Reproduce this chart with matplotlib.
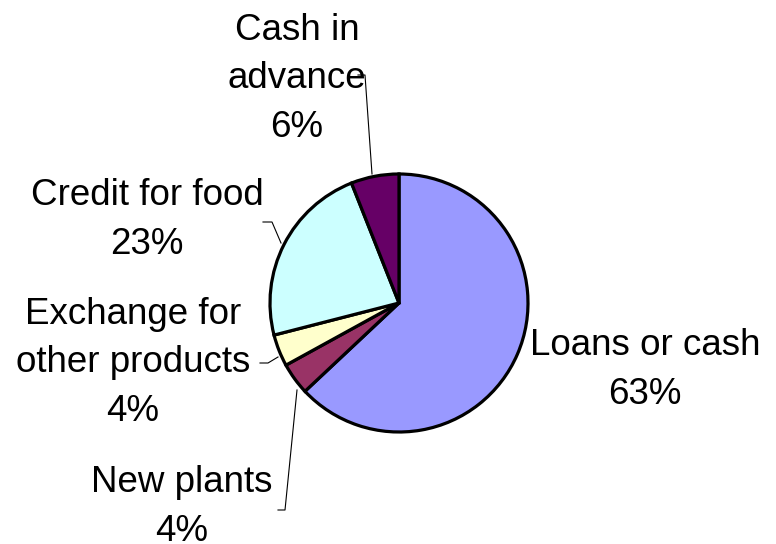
import matplotlib
matplotlib.use('Agg')
import matplotlib.pyplot as plt

# data
categories = ['Loans or cash', 'New plants', 'Exchange for\nother products',
              'Credit for food', 'Cash in\nadvance']
shares = [63, 4, 4, 23, 6]
colors = ['#9999FF', '#993366', '#FFFFCC', '#CCFFFF', '#660066']

W, H = 776, 544
CX, CY, R = 399, 303, 129   # pie centre / radius in pixels (y from top)

# label centres (pixel, y from top) and leader polylines
label_pos = [(645, 370), (182, 507), (133, 363), (147, 220), (297, 79)]
leaders = [
    None,
    [(278, 510), (285, 510), (297, 390)],
    [(260, 363), (268, 363), (278, 357)],
    [(263, 222), (272, 222), (281, 243)],
    [(358, 75), (365, 75), (372, 174)],
]

plt.rcParams['font.family'] = ['Liberation Sans', 'DejaVu Sans']

fig = plt.figure(figsize=(W / 100, H / 100), dpi=100)
ax = fig.add_axes([0, 0, 1, 1])

ax.pie(shares, colors=colors, startangle=90, counterclock=False,
       center=(CX, H - CY), radius=R, frame=True,
       wedgeprops=dict(edgecolor='black', linewidth=2.3))
ax.set_xlim(0, W)
ax.set_ylim(0, H)
ax.set_aspect('equal')
ax.axis('off')

for name, val, (x, y) in zip(categories, shares, label_pos):
    ax.text(x, H - y, f'{name}\n{val}%', ha='center', va='center',
            fontsize=26.5, linespacing=1.5)

for pts in leaders:
    if pts is None:
        continue
    xs = [p[0] for p in pts]
    ys = [H - p[1] for p in pts]
    ax.plot(xs, ys, color='black', linewidth=0.8)

fig.savefig('out.png', dpi=100)
